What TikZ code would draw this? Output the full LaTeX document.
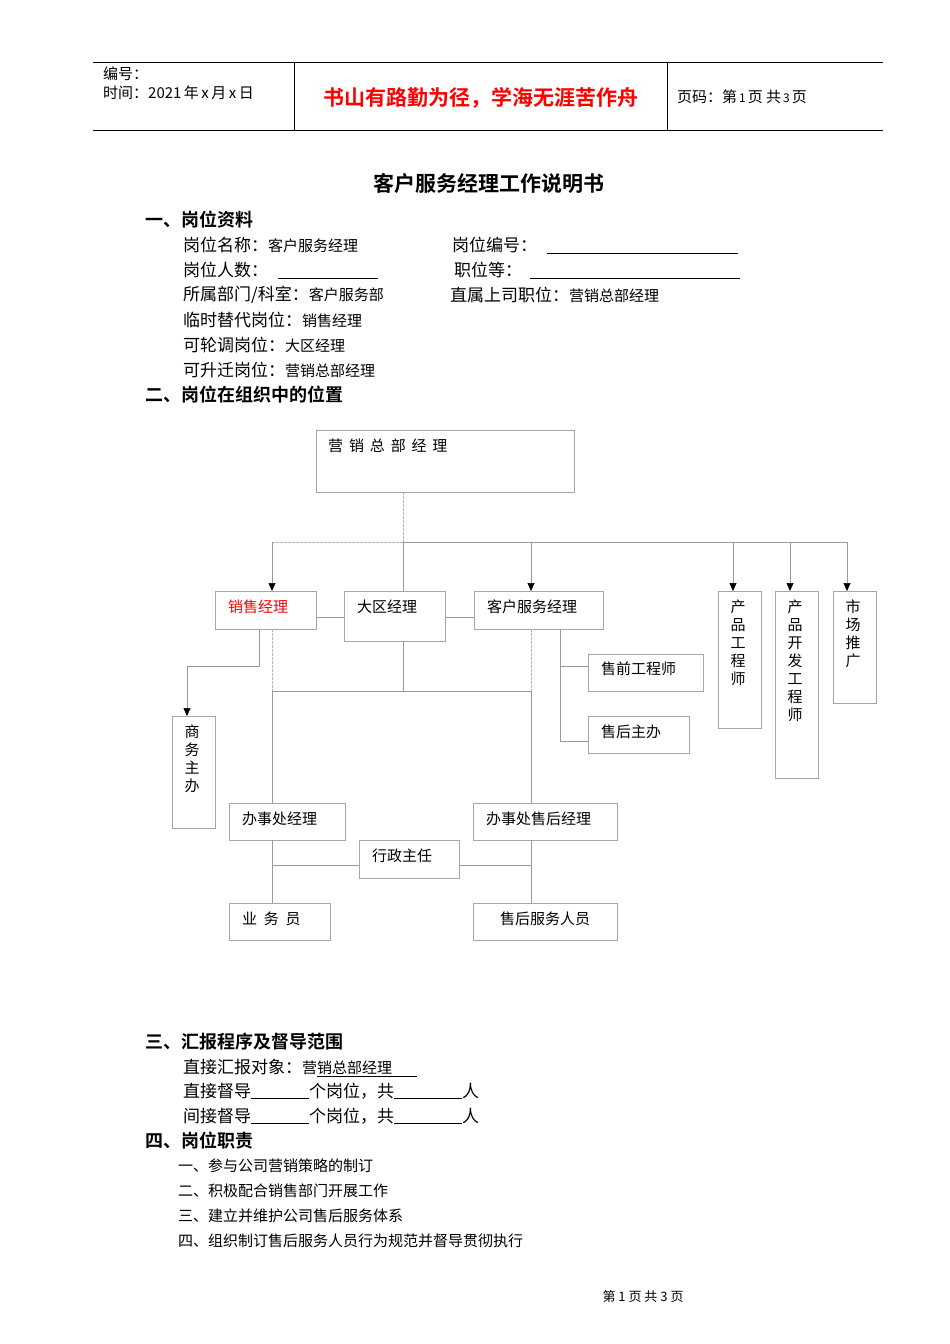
\documentclass[tikz,border=0pt]{standalone}
\usepackage{fontspec}
\setmainfont{Noto Sans CJK SC}
\newfontfamily\cjkb{Noto Sans CJK SC Bold}
\usetikzlibrary{arrows.meta}
\newcommand{\bigk}[1]{{\fontsize{17}{17}\selectfont #1}}
\begin{document}
\begin{tikzpicture}[x=1pt,y=-1pt,
  txt/.style={anchor=west,inner sep=0pt,font=\fontsize{15}{15}\selectfont},
  head/.style={anchor=west,inner sep=0pt,font=\cjkb\fontsize{18}{18}\selectfont},
  bx/.style={draw=gray!70,line width=0.8pt},
  lab/.style={anchor=north west,inner sep=0pt,font=\fontsize{15}{15}\selectfont},
  vlab/.style={anchor=north,inner sep=0pt,align=center,font=\fontsize{15}{18}\selectfont},
  cn/.style={draw=gray!80,line width=0.6pt},
  dcn/.style={draw=gray!60,line width=0.6pt,dash pattern=on 3pt off 1pt},
  ar/.style={cn,-{Triangle[length=8pt,width=7pt,black]}}]
\useasboundingbox (0,0) rectangle (950,1344);
% header
\draw[line width=0.8pt] (93,62)--(883,62) (93,130)--(883,130) (294,62)--(294,130) (667,62)--(667,130);
\node[txt] (h1) at (103,74) {编号：};
\node[txt] (h2) at (103,93) {时间：2021\,年\,x\,月\,x\,日};
\node[txt,font=\cjkb\fontsize{21}{21}\selectfont,text=red,anchor=center] (h3) at (481,98) {书山有路勤为径，学海无涯苦作舟};
\node[txt] (h4) at (677,97) {页码：第{\fontsize{12}{12}\selectfont\,1\,}页\ 共{\fontsize{12}{12}\selectfont\,3\,}页};
\node[anchor=center,font=\cjkb\fontsize{21}{21}\selectfont] (title) at (489,183) {客户服务经理工作说明书};
% section 1
\node[head] (s1) at (145,220) {一、岗位资料};
\node[txt] (a1) at (183,245) {\bigk{岗位名称：}客户服务经理};
\node[txt] (a2) at (183,270) {\bigk{岗位人数：}};
\node[txt] (a3) at (183,295) {\bigk{所属部门/科室：}客户服务部};
\node[txt] (a4) at (183,320) {\bigk{临时替代岗位：}销售经理};
\node[txt] (a5) at (183,345) {\bigk{可轮调岗位：}大区经理};
\node[txt] (a6) at (183,370) {\bigk{可升迁岗位：}营销总部经理};
\node[txt] (b1) at (452,245) {\bigk{岗位编号：}};
\node[txt] (b2) at (454,270) {\bigk{职位等：}};
\node[txt] (b3) at (450,295) {\bigk{直属上司职位：}营销总部经理};
\draw (547,253)--(738,253) (278,278)--(378,278) (530,278)--(740,278);
\node[head] (s2) at (145,395) {二、岗位在组织中的位置};
% org chart
\draw[bx] (316,430) rectangle (574,492);
\node[lab] (top) at (328,439) {营\ \,销\ \,总\ \,部\ \,经\ \,理};
\draw[bx] (215,591) rectangle (316,629);
\node[lab,text=red] (xs) at (228,600) {销售经理};
\draw[bx] (344,591) rectangle (445,641);
\node[lab] (dq) at (357,600) {大区经理};
\draw[bx] (474,591) rectangle (603,629);
\node[lab] (kf) at (487,600) {客户服务经理};
\draw[bx] (718,591) rectangle (761,728);
\node[vlab] (cp) at (738,600) {产\\品\\工\\程\\师};
\draw[bx] (775,591) rectangle (818,778);
\node[vlab] (kfgc) at (795,600) {产\\品\\开\\发\\工\\程\\师};
\draw[bx] (833,591) rectangle (876,703);
\node[vlab] (sc) at (853,600) {市\\场\\推\\广};
\draw[bx] (172,716) rectangle (215,828);
\node[vlab] (sw) at (192,725) {商\\务\\主\\办};
\draw[bx] (588,654) rectangle (703,691);
\node[lab] (sq) at (601,662) {售前工程师};
\draw[bx] (588,716) rectangle (689,753);
\node[lab] (sh) at (601,725) {售后主办};
\draw[bx] (229,803) rectangle (345,840);
\node[lab] (bs) at (242,812) {办事处经理};
\draw[bx] (473,803) rectangle (617,840);
\node[lab] (bsh) at (486,812) {办事处售后经理};
\draw[bx] (359,840) rectangle (459,878);
\node[lab] (xz) at (372,849) {行政主任};
\draw[bx] (229,903) rectangle (330,940);
\node[lab] (yw) at (242,912) {业\ \ 务\ \ 员};
\draw[bx] (473,903) rectangle (617,940);
\node[lab] (shfw) at (500,912) {售后服务人员};
% connectors
\draw[dcn] (403,492)--(403,542) (272,542)--(403,542);
\draw[cn] (403,542)--(847,542) (403,542)--(403,591);
\draw[ar] (272,542)--(272,591);
\draw[ar] (531,542)--(531,591);
\draw[ar] (733,542)--(733,591);
\draw[ar] (790,542)--(790,591);
\draw[ar] (847,542)--(847,591);
\draw[cn] (316,617)--(344,617) (445,617)--(474,617);
\draw[cn] (259,629)--(259,666)--(187,666);
\draw[ar] (187,666)--(187,716);
\draw[cn] (403,641)--(403,691) (272,691)--(531,691);
\draw[dcn] (272,629)--(272,691) (531,629)--(531,691);
\draw[cn] (272,691)--(272,803) (531,691)--(531,803);
\draw[cn] (560,629)--(560,741) (560,666)--(588,666) (560,741)--(588,741);
\draw[cn] (272,840)--(272,903) (531,840)--(531,903) (272,865)--(359,865) (459,865)--(531,865);
% section 3
\node[head] (s3) at (145,1042) {三、汇报程序及督导范围};
\node[txt] (c1) at (183,1067) {\bigk{直接汇报对象：}营销总部经理};
\draw (317,1076)--(417,1076);
\node[txt,font=\fontsize{17}{17}\selectfont] (c2) at (183,1091) {直接督导\underline{\hspace{58pt}}个岗位，共\underline{\hspace{68pt}}人};
\node[txt,font=\fontsize{17}{17}\selectfont] (c3) at (183,1116) {间接督导\underline{\hspace{58pt}}个岗位，共\underline{\hspace{68pt}}人};
\node[head] (s4) at (145,1141) {四、岗位职责};
\node[txt] (d1) at (178,1166) {一、参与公司营销策略的制订};
\node[txt] (d2) at (178,1191) {二、积极配合销售部门开展工作};
\node[txt] (d3) at (178,1216) {三、建立并维护公司售后服务体系};
\node[txt] (d4) at (178,1241) {四、组织制订售后服务人员行为规范并督导贯彻执行};
\node[txt,font=\fontsize{13}{13}\selectfont,anchor=center] (ft) at (643,1297) {第\ 1\ 页\ 共\ 3\ 页};
\end{tikzpicture}
\end{document}
